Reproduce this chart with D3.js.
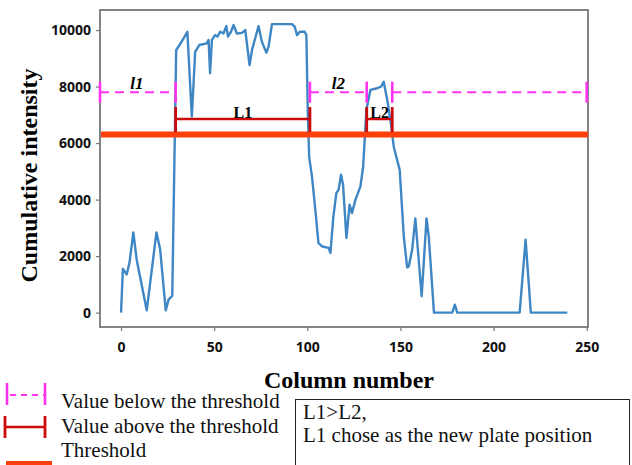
<!DOCTYPE html>
<html>
<head>
<meta charset="utf-8">
<script src="https://cdn.jsdelivr.net/npm/d3@7/dist/d3.min.js"></script>
<style>
  html, body { margin: 0; padding: 0; background: #fff; }
  svg { display: block; }
</style>
</head>
<body>
<svg id="chart" width="632" height="465"></svg>
<script>
// ---- data ----
const columns = [0,1,3,4.5,6.6,8.4,10,13.8,19,21,24,25.5,27,27.5,29.6,31.4,33.5,35.6,38,39.8,42,46,47,47.8,48.8,50.5,51.8,53.2,55,56.5,57.4,59,60.4,62.2,64.9,66.7,69,70.3,72,73.8,75.6,78,79.2,81,91.8,93.2,94.5,96,98.6,99.5,100.3,101,102.5,104.3,106,108,111.5,112.4,114,115.6,116.8,118.1,119.2,121,122.7,124,125.8,128.5,130,131.7,133.9,137.5,139.6,141,142.9,144.6,146.4,148.2,149.6,151.8,153.6,154.5,156.3,158,159.8,161.4,164,165.2,168,177.8,179.2,180.5,214,217.2,220,239.6];
const intensity = [0,1550,1350,1750,2840,1870,1340,80,2840,2230,80,460,560,600,9290,9470,9700,9940,6940,9230,9470,9530,9650,8470,9650,9820,9770,9940,9880,10140,9770,9940,10180,9880,9900,10000,8760,9290,9700,10140,9590,9200,9410,10210,10210,10120,9820,9940,9940,9820,7000,5500,4820,3640,2460,2340,2290,2110,3400,4230,4350,4880,4520,2640,3820,3520,3990,4460,5170,7170,7880,7940,8000,8170,7530,6820,5880,5410,5050,2700,1600,1640,2230,3330,1870,580,3330,2700,0,0,280,0,0,2580,0,0];

const xTicks = [0, 50, 100, 150, 200, 250];
const yTicks = [0, 2000, 4000, 6000, 8000, 10000];

const threshold = 6300;
const belowLevel = 7800;   // y-level of dashed "below threshold" spans
const aboveLevel = 6850;   // y-level of solid "above threshold" spans
const belowSpans = [[-11.3, 29.3], [101.4, 131.9], [145.6, 250]];
const aboveSpans = [[29.3, 101.4], [131.9, 145.6]];
const belowLabels = [{text: "l1", x: 8.5}, {text: "l2", x: 116.7}];
const aboveLabels = [{text: "L1", x: 65.4}, {text: "L2", x: 138.8}];

const legendItems = ["Value below the threshold", "Value above the threshold", "Threshold"];
const noteLines = ["L1>L2,", "L1 chose as the new plate position"];

// ---- drawing ----
const svg = d3.select("#chart");
const L = 100, R = 588, T = 10, B = 327;
const x = d3.scaleLinear().domain([-11.3, 250.7]).range([L, R]);
const y = d3.scaleLinear().domain([-510, 10710]).range([B, T]);

const serif = "'Liberation Serif','Times New Roman',serif";
const sans = "'Open Sans','DejaVu Sans',sans-serif";
const pink = "#ff33ee", red = "#cc0a0a", orange = "#ff3f0c", blue = "#3f86c4";

// axes
const xAxis = svg.append("g").attr("transform", `translate(0,${B})`)
  .call(d3.axisBottom(x).tickValues(xTicks).tickFormat(d3.format("d")).tickSize(4).tickPadding(11).tickSizeOuter(0));
const yAxis = svg.append("g").attr("transform", `translate(${L},0)`)
  .call(d3.axisLeft(y).tickValues(yTicks).tickFormat(d3.format("d")).tickSize(4).tickPadding(5).tickSizeOuter(0));
[xAxis, yAxis].forEach(g => {
  g.select(".domain").remove();
  g.selectAll(".tick line").attr("stroke", "#777").attr("stroke-width", 1.2);
  g.selectAll(".tick text").attr("fill", "#111").style("font-family", sans)
    .style("font-weight", 700).style("font-size", "14px");
});

// frame
svg.append("rect").attr("x", L).attr("y", T).attr("width", R - L).attr("height", B - T)
  .attr("fill", "none").attr("stroke", "#777").attr("stroke-width", 1.8);

// data line
svg.append("path")
  .datum(columns.map((c, i) => [c, intensity[i]]))
  .attr("fill", "none").attr("stroke", blue).attr("stroke-width", 2.4)
  .attr("stroke-linejoin", "round")
  .attr("d", d3.line().x(d => x(d[0])).y(d => y(d[1])));

// threshold
svg.append("line").attr("x1", L + 1).attr("x2", R).attr("y1", y(threshold)).attr("y2", y(threshold))
  .attr("stroke", orange).attr("stroke-width", 6);

// below spans (dashed pink)
const gb = svg.append("g");
belowSpans.forEach(s => {
  gb.append("line").attr("x1", x(s[0])).attr("x2", x(s[1]))
    .attr("y1", y(belowLevel)).attr("y2", y(belowLevel))
    .attr("stroke", pink).attr("stroke-width", 2).attr("stroke-dasharray", "9,6");
  s.forEach(v => gb.append("line").attr("x1", x(v)).attr("x2", x(v))
    .attr("y1", y(belowLevel) - 10.5).attr("y2", y(belowLevel) + 10.5)
    .attr("stroke", pink).attr("stroke-width", 2.6));
});
belowLabels.forEach(l => gb.append("text").attr("x", x(l.x)).attr("y", y(belowLevel) - 3)
  .attr("text-anchor", "middle").style("font-family", serif).style("font-weight", 700)
  .style("font-style", "italic").style("font-size", "17px").text(l.text));

// above spans (solid red)
const ga = svg.append("g");
aboveSpans.forEach(s => {
  ga.append("line").attr("x1", x(s[0])).attr("x2", x(s[1]))
    .attr("y1", y(aboveLevel)).attr("y2", y(aboveLevel))
    .attr("stroke", red).attr("stroke-width", 2.4);
  s.forEach(v => ga.append("line").attr("x1", x(v)).attr("x2", x(v))
    .attr("y1", y(aboveLevel) - 12).attr("y2", y(aboveLevel) + 13)
    .attr("stroke", red).attr("stroke-width", 2.8));
});
aboveLabels.forEach(l => ga.append("text").attr("x", x(l.x)).attr("y", y(aboveLevel) - 1.5)
  .attr("text-anchor", "middle").style("font-family", serif).style("font-weight", 700)
  .style("font-size", "16px").text(l.text));

// axis titles
svg.append("text").attr("x", 349).attr("y", 388).attr("text-anchor", "middle")
  .style("font-family", serif).style("font-weight", 700).style("font-size", "24px")
  .text("Column number");
svg.append("text").attr("transform", "translate(37,175.5) rotate(-90)").attr("text-anchor", "middle")
  .style("font-family", serif).style("font-weight", 700).style("font-size", "24px")
  .text("Cumulative intensity");

// legend
const lg = svg.append("g");
// dashed pink symbol
lg.append("line").attr("x1", 7).attr("x2", 45).attr("y1", 395).attr("y2", 395)
  .attr("stroke", pink).attr("stroke-width", 2).attr("stroke-dasharray", "6,5").attr("stroke-dashoffset", -3);
[7, 45].forEach(v => lg.append("line").attr("x1", v).attr("x2", v).attr("y1", 383).attr("y2", 405)
  .attr("stroke", pink).attr("stroke-width", 2.6));
// red symbol
lg.append("line").attr("x1", 5).attr("x2", 45).attr("y1", 427).attr("y2", 427)
  .attr("stroke", red).attr("stroke-width", 2.4);
[5, 45].forEach(v => lg.append("line").attr("x1", v).attr("x2", v).attr("y1", 416).attr("y2", 438)
  .attr("stroke", red).attr("stroke-width", 2.8));
// orange bar
lg.append("rect").attr("x", 6).attr("y", 461).attr("width", 46).attr("height", 5).attr("fill", orange);
legendItems.forEach((t, i) => lg.append("text").attr("x", 61).attr("y", [408, 433, 457][i])
  .style("font-family", serif).style("font-size", "21px").attr("fill", "#111").text(t));

// note box
svg.append("rect").attr("x", 295.5).attr("y", 399.5).attr("width", 334).attr("height", 80)
  .attr("fill", "none").attr("stroke", "#222").attr("stroke-width", 1);
noteLines.forEach((t, i) => svg.append("text").attr("x", 303).attr("y", [419, 442][i])
  .style("font-family", serif).style("font-size", "21px").attr("fill", "#111").text(t));
</script>
</body>
</html>
